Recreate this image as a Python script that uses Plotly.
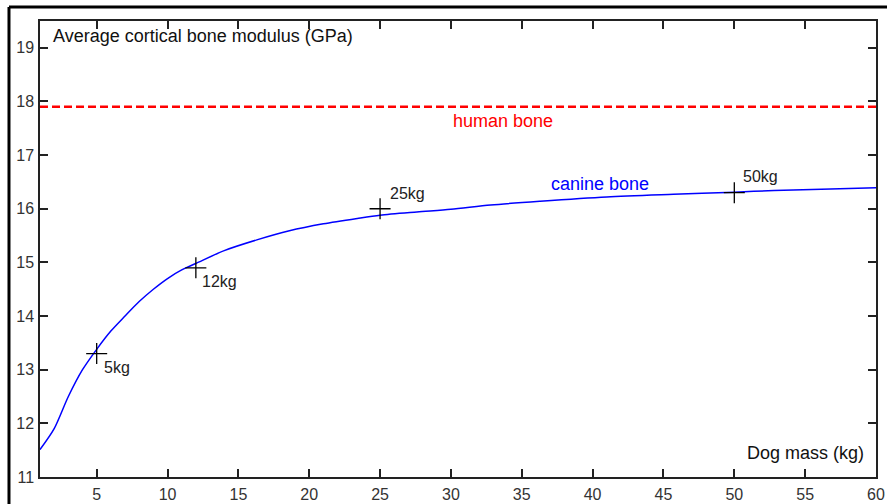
import plotly.graph_objects as go

# Canine bone curve (dog mass kg -> modulus GPa)
mass = [1, 2, 3, 4, 5, 6, 7, 8, 9, 10, 11, 12, 14, 16.3, 18.6,
        21, 23.4, 25, 27.6, 30, 32.8, 36.3, 41, 45.7, 50, 52.8, 56.8, 60]
modulus = [11.51, 11.9, 12.5, 13.0, 13.38, 13.72, 14.0, 14.27, 14.5, 14.7, 14.86,
           14.98, 15.22, 15.42, 15.59, 15.72, 15.82, 15.88, 15.94, 15.99, 16.07, 16.14,
           16.22, 16.27, 16.31, 16.34, 16.37, 16.39]

# Marked dog sizes
mark_mass = [5, 12, 25, 50]
mark_mod = [13.3, 14.9, 16.0, 16.3]
mark_labels = ["5kg", "12kg", "25kg", "50kg"]

human_modulus = 17.9
x_ticks = [5, 10, 15, 20, 25, 30, 35, 40, 45, 50, 55, 60]
y_ticks = [11, 12, 13, 14, 15, 16, 17, 18, 19]

FONT = "Liberation Sans, Arial, sans-serif"

fig = go.Figure()
fig.add_trace(go.Scatter(x=[1, 60], y=[human_modulus, human_modulus], mode="lines",
                         line=dict(color="#ff0000", width=2.5, dash="8px,4px"),
                         hoverinfo="skip"))
fig.add_trace(go.Scatter(x=mass, y=modulus, mode="lines",
                         line=dict(color="#0000ff", width=1.5, shape="spline", smoothing=0.8),
                         hoverinfo="skip"))
fig.add_trace(go.Scatter(x=mark_mass, y=mark_mod, mode="markers",
                         marker=dict(symbol="cross-thin", size=15,
                                     line=dict(color="black", width=1.3)),
                         hoverinfo="skip"))

# marker labels: (xshift, yshift, yanchor)
offs = [(5, -3, "top"), (4, -3, "top"), (8, 5, "bottom"), (7, 6, "bottom")]
for xm, ym, lab, (dx, dy, ya) in zip(mark_mass, mark_mod, mark_labels, offs):
    fig.add_annotation(x=xm, y=ym, text=lab, showarrow=False, xanchor="left", yanchor=ya,
                       xshift=dx, yshift=dy, font=dict(family=FONT, size=16, color="#222"))

fig.add_annotation(x=33.7, y=human_modulus, text="human bone", showarrow=False,
                   yanchor="top", yshift=-2, font=dict(family=FONT, size=18, color="#ff0000"))
fig.add_annotation(x=40.5, y=16.22, text="canine bone", showarrow=False,
                   yanchor="bottom", yshift=1, font=dict(family=FONT, size=18, color="#0000ff"))
fig.add_annotation(xref="paper", yref="paper", x=0.013, y=0.967, text="Average cortical bone modulus (GPa)",
                   showarrow=False, xanchor="left", yanchor="middle",
                   font=dict(family=FONT, size=18, color="#111"))
fig.add_annotation(xref="paper", yref="paper", x=0.988, y=0.052, text="Dog mass (kg)",
                   showarrow=False, xanchor="right", yanchor="middle",
                   font=dict(family=FONT, size=18, color="#111"))

# outer frame (top and left)
fig.add_shape(type="line", xref="paper", yref="paper", x0=-0.0371, x1=1.02, y0=1.0307, y1=1.0307,
              line=dict(color="black", width=3))
fig.add_shape(type="line", xref="paper", yref="paper", x0=-0.0371, x1=-0.0371, y0=1.0307, y1=-0.07,
              line=dict(color="black", width=3))

axis_common = dict(showgrid=False, zeroline=False, showline=True, linecolor="#222", linewidth=1.5,
                   ticks="inside", ticklen=8, tickwidth=1.5, tickcolor="#222", mirror="ticks",
                   automargin=False,
                   tickfont=dict(family=FONT, size=16, color="#333"))
fig.update_xaxes(range=[1, 60], tickvals=x_ticks, ticklabelstandoff=2, **axis_common)
fig.update_yaxes(range=[11, 19.5], tickvals=y_ticks, ticklabelstandoff=1, **axis_common)

fig.update_layout(width=887, height=504, margin=dict(l=40, r=11, t=21, b=27),
                  plot_bgcolor="white", paper_bgcolor="white", showlegend=False)

fig.write_html("out.html")
